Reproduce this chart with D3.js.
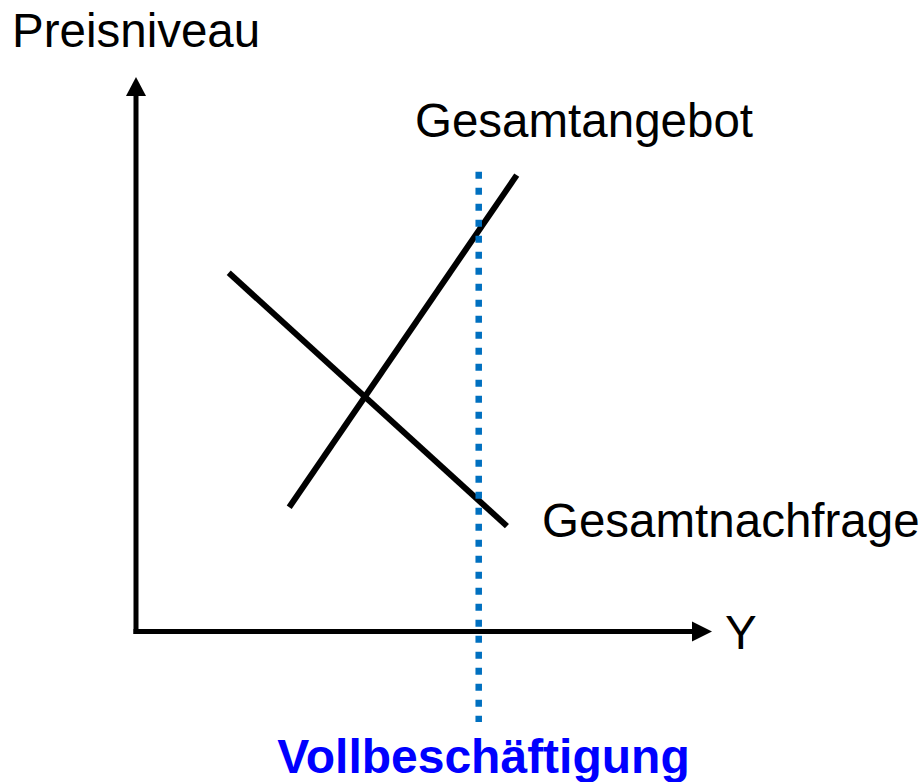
<!DOCTYPE html>
<html>
<head>
<meta charset="utf-8">
<script src="https://cdn.jsdelivr.net/npm/d3@7"></script>
<style>
  body { margin: 0; background: #fff; }
  text { font-family: "Liberation Sans", Arial, sans-serif; }
</style>
</head>
<body>
<div id="chart"></div>
<script>
// curve end points in abstract units (0..100 on both axes)
const demand = [{x: 16.1, y: 64.7}, {x: 64.4, y: 19.0}];   // Gesamtnachfrage
const supply = [{x: 26.6, y: 22.4}, {x: 66.1, y: 82.3}];   // Gesamtangebot
const fullEmployment = {x: 59.5, y0: -16.3, y1: 82.9};     // Vollbeschäftigung
const labels = ["Preisniveau", "Y", "Gesamtangebot", "Gesamtnachfrage", "Vollbeschäftigung"];

const width = 924, height = 782;

const svg = d3.select("#chart").append("svg")
    .attr("width", width)
    .attr("height", height);

// scales: origin at the axis corner, 100 = arrow tips
const x = d3.scaleLinear().domain([0, 100]).range([136, 712]);
const y = d3.scaleLinear().domain([0, 100]).range([631.5, 77]);

const line = d3.line().x(d => x(d.x)).y(d => y(d.y));

// axes
svg.append("line")
    .attr("x1", x(0)).attr("y1", y(0) + 2.5)
    .attr("x2", x(0)).attr("y2", y(100) + 18)
    .attr("stroke", "#000").attr("stroke-width", 5);
svg.append("path")
    .attr("d", `M${x(0)},${y(100)} L${x(0) - 10},${y(100) + 19} L${x(0) + 10},${y(100) + 19} Z`)
    .attr("fill", "#000");

svg.append("line")
    .attr("x1", x(0) - 2.5).attr("y1", y(0))
    .attr("x2", x(100) - 18).attr("y2", y(0))
    .attr("stroke", "#000").attr("stroke-width", 5);
svg.append("path")
    .attr("d", `M${x(100)},${y(0)} L${x(100) - 20},${y(0) - 10} L${x(100) - 20},${y(0) + 10} Z`)
    .attr("fill", "#000");

// curves
svg.append("path").datum(demand)
    .attr("d", line)
    .attr("fill", "none").attr("stroke", "#000").attr("stroke-width", 6);
svg.append("path").datum(supply)
    .attr("d", line)
    .attr("fill", "none").attr("stroke", "#000").attr("stroke-width", 6);

// full employment dotted line
svg.append("line")
    .attr("x1", x(fullEmployment.x)).attr("y1", y(fullEmployment.y1))
    .attr("x2", x(fullEmployment.x)).attr("y2", y(fullEmployment.y0))
    .attr("stroke", "#0070C0").attr("stroke-width", 6.5)
    .attr("stroke-dasharray", "7,9");

// labels
const fs = 47.5;
svg.append("text").attr("x", 12).attr("y", 47)
    .attr("font-size", fs).text(labels[0]);
svg.append("text").attr("x", x(100) + 13).attr("y", y(0) + 17)
    .attr("font-size", fs).text(labels[1]);
svg.append("text").attr("x", 415).attr("y", 137)
    .attr("font-size", fs).text(labels[2]);
svg.append("text").attr("x", 542).attr("y", 537)
    .attr("font-size", fs).text(labels[3]);
svg.append("text").attr("x", 483.5).attr("y", 773)
    .attr("text-anchor", "middle")
    .attr("font-size", 48).attr("font-weight", "bold")
    .attr("fill", "#0000FF").text(labels[4]);
</script>
</body>
</html>
